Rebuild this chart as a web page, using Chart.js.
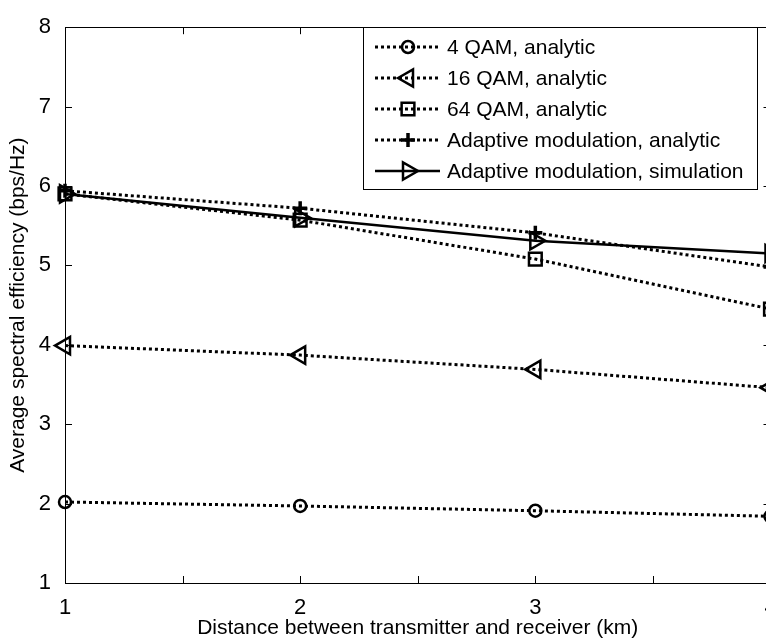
<!DOCTYPE html>
<html>
<head>
<meta charset="utf-8">
<script src="https://cdn.jsdelivr.net/npm/chart.js@4/dist/chart.umd.min.js"></script>
<style>
  html, body { margin: 0; padding: 0; background: #fff; overflow: hidden; }
  #wrap { width: 766px; height: 641px; overflow: hidden; position: relative; }
  canvas { display: block; }
</style>
</head>
<body>
<div id="wrap"><canvas id="c" width="800" height="641" style="width:800px;height:641px"></canvas></div>
<script>
// ---- data ----
const distances = [1, 2, 3, 4];                 // km
const qam4Analytic = [2.02, 1.97, 1.91, 1.84];
const qam16Analytic = [3.99, 3.87, 3.69, 3.46];
const qam64Analytic = [5.90, 5.57, 5.08, 4.45];
const adaptiveAnalytic = [5.94, 5.72, 5.41, 4.98];
const adaptiveSimulation = [5.90, 5.60, 5.31, 5.15];
const seriesLabels = ['4 QAM, analytic', '16 QAM, analytic', '64 QAM, analytic',
  'Adaptive modulation, analytic', 'Adaptive modulation, simulation'];
const xTitle = 'Distance between transmitter and receiver (km)';
const yTitle = 'Average spectral efficiency (bps/Hz)';
const xMin = 1, xMax = 4, yMin = 1, yMax = 8;

const FONT = '"Liberation Sans", Arial, Helvetica, sans-serif';
const pts = arr => distances.map((d, i) => ({ x: d, y: arr[i] }));

function ds(label, arr, style, rot, r, dashed, bw) {
  return {
    label, data: pts(arr),
    borderColor: '#000', backgroundColor: 'rgba(0,0,0,0)',
    borderWidth: dashed ? 3 : 2.5,
    borderDash: dashed ? [3, 3] : [],
    pointStyle: style, rotation: rot, pointRadius: r, pointHoverRadius: r,
    pointBorderColor: '#000', pointBackgroundColor: 'rgba(0,0,0,0)',
    pointBorderWidth: bw,
    tension: 0, clip: false, showLine: true
  };
}

const datasets = [
  ds(seriesLabels[0], qam4Analytic, 'circle', 0, 6, true, 2.5),
  ds(seriesLabels[1], qam16Analytic, 'triangle', 270, 10, true, 2.5),
  ds(seriesLabels[2], qam64Analytic, 'rect', 0, 9, true, 2.5),
  ds(seriesLabels[3], adaptiveAnalytic, 'cross', 0, 7, true, 3.5),
  ds(seriesLabels[4], adaptiveSimulation, 'triangle', 90, 10, false, 2.5)
];

function drawMarker(ctx, d, x, y) {
  const opts = {
    pointStyle: d.pointStyle, rotation: d.rotation, radius: d.pointRadius,
    borderWidth: d.pointBorderWidth
  };
  ctx.save();
  ctx.setLineDash([]);
  ctx.strokeStyle = '#000';
  ctx.fillStyle = 'rgba(0,0,0,0)';
  ctx.lineWidth = d.pointBorderWidth;
  if (Chart.helpers && Chart.helpers.drawPoint) {
    Chart.helpers.drawPoint(ctx, opts, x, y);
  }
  ctx.restore();
}

const framePlugin = {
  id: 'frame',
  beforeDatasetsDraw(chart) {
    const { ctx, chartArea: a, scales } = chart;
    ctx.save();
    ctx.strokeStyle = '#000';
    ctx.lineWidth = 1;
    ctx.setLineDash([]);
    ctx.strokeRect(Math.round(a.left) + 0.5, Math.round(a.top) + 0.5,
      Math.round(a.right - a.left), Math.round(a.bottom - a.top));
    const tl = 7;
    ctx.beginPath();
    scales.x.ticks.forEach(t => {
      const px = Math.round(scales.x.getPixelForValue(t.value)) + 0.5;
      ctx.moveTo(px, a.bottom); ctx.lineTo(px, a.bottom - tl);
      ctx.moveTo(px, a.top); ctx.lineTo(px, a.top + tl);
    });
    scales.y.ticks.forEach(t => {
      const py = Math.round(scales.y.getPixelForValue(t.value)) + 0.5;
      ctx.moveTo(a.left, py); ctx.lineTo(a.left + tl, py);
      ctx.moveTo(a.right, py); ctx.lineTo(a.right - tl, py);
    });
    ctx.stroke();
    ctx.restore();
  }
};

const legendPlugin = {
  id: 'matlabLegend',
  afterDraw(chart) {
    const { ctx } = chart;
    const bx = 363.5, by = 27.5, bw = 394, bh = 162;
    ctx.save();
    ctx.fillStyle = '#fff';
    ctx.fillRect(bx, by, bw, bh);
    ctx.strokeStyle = '#000';
    ctx.lineWidth = 1;
    ctx.setLineDash([]);
    ctx.strokeRect(bx, by, bw, bh);
    ctx.font = '21px ' + FONT;
    ctx.textBaseline = 'middle';
    ctx.textAlign = 'left';
    chart.data.datasets.forEach((d, i) => {
      const y = 47 + i * 31;
      ctx.save();
      ctx.strokeStyle = '#000';
      ctx.lineWidth = d.borderWidth;
      ctx.setLineDash(d.borderDash);
      ctx.beginPath();
      ctx.moveTo(375, y); ctx.lineTo(440, y);
      ctx.stroke();
      ctx.restore();
      drawMarker(ctx, d, 408, y);
      ctx.fillStyle = '#000';
      ctx.fillText(d.label, 447, y + 1);
    });
    ctx.restore();
  }
};

new Chart(document.getElementById('c'), {
  type: 'line',
  data: { datasets },
  plugins: [framePlugin, legendPlugin],
  options: {
    responsive: false,
    animation: false,
    devicePixelRatio: 1,
    layout: { padding: { left: 0, top: 12, right: 29.5, bottom: 0 } },
    plugins: { legend: { display: false }, tooltip: { enabled: false } },
    scales: {
      x: {
        type: 'linear', min: xMin, max: xMax,
        grid: { display: false, drawTicks: false },
        border: { display: false },
        ticks: {
          stepSize: 0.5, color: '#000', padding: 12, maxRotation: 0,
          autoSkip: false,
          font: { family: FONT, size: 22 },
          callback: v => Number.isInteger(v) ? String(v) : ''
        },
        title: { display: true, text: xTitle, color: '#000', padding: { top: 1, bottom: 0 },
          font: { family: FONT, size: 21 } },
        afterFit: s => { s.height = 58; }
      },
      y: {
        type: 'linear', min: yMin, max: yMax,
        grid: { display: false, drawTicks: false },
        border: { display: false },
        ticks: { stepSize: 1, color: '#000', padding: 14,
          font: { family: FONT, size: 22 } },
        title: { display: true, text: yTitle, color: '#000', padding: { top: 6, bottom: 0 },
          font: { family: FONT, size: 21 } },
        afterFit: s => { s.width = 65; }
      }
    }
  }
});
</script>
</body>
</html>
